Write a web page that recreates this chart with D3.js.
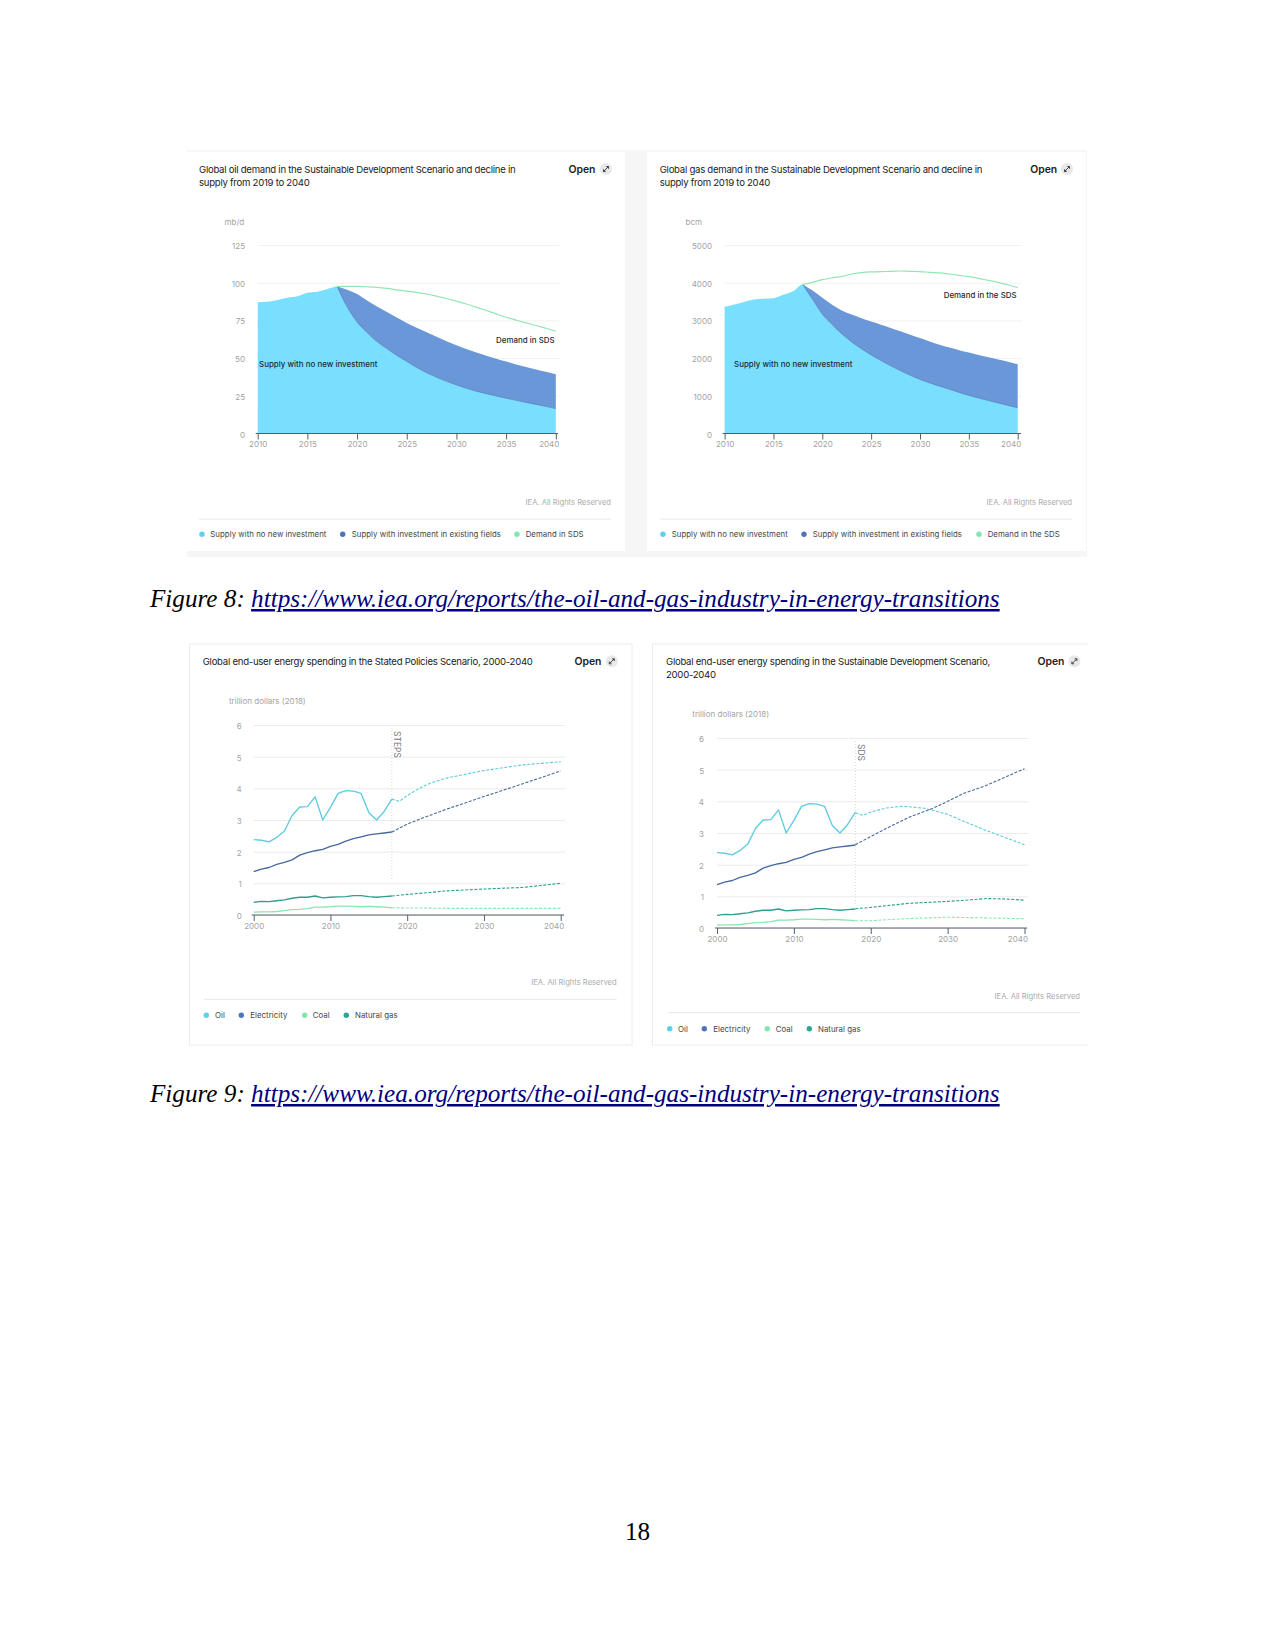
<!DOCTYPE html>
<html><head><meta charset="utf-8">
<script src="https://cdn.jsdelivr.net/npm/d3@7"></script>
<style>
html,body{margin:0;padding:0;background:#fff}
svg{display:block}
text{font-family:Inter,"Noto Sans",sans-serif}
.page{font-family:"Liberation Serif",serif;font-size:25.17px}
</style></head><body>
<svg id="page" width="1275" height="1650"></svg>
<script>
// ---- Data ----
const yearsA = [2010,2011,2012,2013,2014,2015,2016,2017,2018,2019,2020,2021,2022,2023,2024,2025,2026,2027,2028,2029,2030,2031,2032,2033,2034,2035,2036,2037,2038,2039,2040];
const yearsB = [2018,2019,2020,2021,2022,2023,2024,2025,2026,2027,2028,2029,2030,2031,2032,2033,2034,2035,2036,2037,2038,2039,2040];

const oilSupply = [87,87.3,88.5,90,91,93.3,94,95.8,97.5,84,74,67,61,56.3,51.8,47.8,43.8,40.3,37.3,34.6,32.2,30,28,26.4,24.9,23.4,22,20.6,19.3,18,16.5];
const oilInvest = [97.5,95.3,92.5,88.2,84.2,80.5,76.9,73.3,70.1,67.2,64.2,61.2,58.6,56.1,53.7,51.6,49.6,47.7,45.8,44.1,42.5,40.9,39.3];
const oilDemand = [97.5,97.6,97.6,97.3,96.9,96.2,95.3,94.4,93.6,92.5,91.1,89.5,87.8,85.9,83.8,81.6,79.3,77.1,75.2,73.4,71.6,69.8,67.8];

const gasSupply = [3360,3420,3490,3555,3575,3590,3680,3770,3955,3560,3170,2890,2640,2430,2250,2085,1935,1795,1665,1545,1435,1340,1255,1175,1090,1010,940,875,810,745,685];
const gasInvest = [3955,3790,3600,3415,3265,3155,3060,2970,2885,2800,2710,2620,2530,2440,2355,2280,2210,2150,2085,2020,1965,1905,1840];
const gasDemand = [3955,4010,4080,4125,4170,4230,4265,4285,4295,4300,4310,4300,4295,4275,4260,4230,4195,4160,4115,4060,4010,3945,3865];

const histYears = [2000,2001,2002,2003,2004,2005,2006,2007,2008,2009,2010,2011,2012,2013,2014,2015,2016,2017,2018];
const histOil = [2.38,2.36,2.31,2.45,2.65,3.14,3.41,3.42,3.73,3.0,3.4,3.84,3.93,3.91,3.84,3.24,3.0,3.27,3.66];
const histElectricity = [1.37,1.45,1.5,1.6,1.66,1.74,1.89,1.97,2.03,2.07,2.17,2.23,2.33,2.41,2.47,2.53,2.56,2.59,2.62];
const histGas = [0.40,0.43,0.42,0.45,0.48,0.53,0.56,0.56,0.60,0.54,0.56,0.57,0.58,0.61,0.61,0.58,0.56,0.58,0.60];
const histCoal = [0.09,0.10,0.10,0.11,0.14,0.17,0.18,0.20,0.25,0.25,0.26,0.28,0.28,0.27,0.26,0.27,0.26,0.25,0.23];

const stepsOilYears = [2018,2019,2020,2021,2022,2023,2024,2025,2030,2035,2040];
const stepsOil = [3.66,3.59,3.77,3.92,4.05,4.16,4.24,4.32,4.56,4.74,4.84];
const stepsOtherYears = [2018,2020,2022,2025,2030,2035,2040];
const stepsElectricity = [2.62,2.87,3.06,3.33,3.74,4.14,4.55];
const stepsGas = [0.60,0.65,0.69,0.76,0.82,0.87,1.0];
const stepsCoal = [0.23,0.22,0.22,0.21,0.21,0.21,0.21];

const sdsOilYears = [2018,2019,2020,2022,2024,2025,2027,2028,2030,2032,2035,2040];
const sdsOil = [3.64,3.56,3.66,3.79,3.84,3.83,3.78,3.72,3.59,3.38,3.08,2.63];
const sdsElecYears = [2018,2020,2022,2025,2028,2030,2032,2035,2040];
const sdsElectricity = [2.63,2.89,3.14,3.5,3.77,4.0,4.24,4.5,5.03];
const sdsGasYears = [2018,2020,2025,2030,2033,2035,2037,2040];
const sdsGas = [0.61,0.65,0.78,0.84,0.89,0.93,0.92,0.88];
const sdsCoalYears = [2018,2020,2022,2025,2030,2035,2040];
const sdsCoal = [0.23,0.23,0.26,0.30,0.34,0.32,0.29];

const oilTicksY = [0,25,50,75,100,125];
const gasTicksY = [0,1000,2000,3000,4000,5000];
const spendTicksY = [0,1,2,3,4,5,6];
const areaTicksX = [2010,2015,2020,2025,2030,2035,2040];
const spendTicksX = [2000,2010,2020,2030,2040];

const C = {light:"#7adfff",dark:"#6a97d8",green:"#93e6b4",oil:"#5fcbe0",elec:"#46699f",coal:"#8be5b2",gas:"#2f9e8f",
  legLight:"#5fd0ec",legDark:"#4f74b8",legGreen:"#82e6ae",legTeal:"#2aa795"};
const GRAY="#a3a3a3", INK="#2a2a2a";
const curve = d3.curveMonotoneX;

const svg = d3.select("#page");
svg.append("rect").attr("x",187).attr("y",150).attr("width",900).attr("height",407).attr("fill","#f6f6f6");

function txt(g,x,y,s,o={}){
  return g.append("text").attr("x",x).attr("y",y).text(s)
    .attr("font-size",o.size||8).attr("fill",o.fill||INK)
    .attr("font-weight",o.weight||400).attr("text-anchor",o.anchor||"start")
    .attr("letter-spacing",o.ls||0);
}
function frame(c){
  const g = svg.append("g");
  g.append("rect").attr("x",c.card[0]).attr("y",c.card[1]).attr("width",c.card[2]-c.card[0]).attr("height",c.card[3]-c.card[1])
    .attr("fill","#fff").attr("stroke",c.border||"none");
  c.title.forEach((t,i)=>txt(g,c.titleX,c.titleY+i*13,t,{size:9.6,ls:-0.27,fill:"#222"}));
  txt(g,c.openX,c.titleY,"Open",{size:10.4,weight:600,fill:"#222"});
  g.append("circle").attr("cx",c.iconX).attr("cy",c.titleY-3.5).attr("r",6).attr("fill","#e8e8e8");
  g.append("path").attr("d",`M${c.iconX-2.5} ${c.titleY-1}L${c.iconX+2.5} ${c.titleY-6}M${c.iconX+0.3} ${c.titleY-6}H${c.iconX+2.5}V${c.titleY-3.8}M${c.iconX-2.5} ${c.titleY-3.2}V${c.titleY-1}H${c.iconX-0.3}`)
    .attr("fill","none").attr("stroke","#444").attr("stroke-width",1);
  txt(g,c.unitX,c.unitY,c.unit,{size:8,fill:GRAY});
  txt(g,c.sep[2],c.iesY,"IEA. All Rights Reserved",{size:7.6,fill:"#ababab",anchor:"end"});
  g.append("line").attr("x1",c.sep[0]).attr("x2",c.sep[2]).attr("y1",c.sep[1]).attr("y2",c.sep[1]).attr("stroke","#e8e8e8");
  c.legend.forEach(l=>{
    g.append("circle").attr("cx",l.dot).attr("cy",c.legY).attr("r",2.7).attr("fill",l.color);
    txt(g,l.x,c.legY+3,l.label,{size:7.8,fill:"#444",ls:0.05});
  });
  return g;
}
function axes(g,c,x,y,ticksX,ticksY){
  const ay = g.append("g").attr("transform",`translate(${c.x[0]},0)`)
    .call(d3.axisLeft(y).tickValues(ticksY).tickSize(-(c.gridEnd-c.x[0])).tickFormat(d3.format("d")));
  ay.select(".domain").remove();
  ay.selectAll("line").attr("stroke",c.grid);
  ay.selectAll("text").attr("x",c.labelRight-c.x[0]).attr("dy","1.1em").attr("font-size",8).attr("fill",GRAY).attr("font-family","Inter")
    .attr("transform","translate(0,-5.2)");
  return ay;
}
function xAxis(g,c,x,y,ticksX){
  const ax = g.append("g").attr("transform",`translate(0,${y(0)})`)
    .call(d3.axisBottom(x).tickValues(ticksX).tickSizeOuter(0).tickSizeInner(6).tickPadding(2).tickFormat(d3.format("d")));
  ax.select(".domain").attr("d",`M${c.x[0]-2},0H${c.gridEnd-1}`).attr("stroke","#55606a").attr("stroke-width",1.1);
  ax.selectAll("line").attr("stroke","#55606a");
  ax.selectAll("text").attr("font-size",8).attr("fill",GRAY).attr("font-family","Inter");
  ax.selectAll(".tick:last-of-type text").attr("text-anchor","end").attr("x",3);
}

function areaChart(c,supply,invest,demand,ticksY){
  const g = frame(c);
  const x = d3.scaleLinear().domain([2010,2040]).range(c.x);
  const y = d3.scaleLinear().domain([0,ticksY[5]]).range(c.y);
  axes(g,c,x,y,areaTicksX,ticksY);
  const supplyAt = d3.map(yearsA,(yr,i)=>({yr,v:supply[i]}));
  g.append("path").datum(supplyAt).attr("fill",C.light)
    .attr("d",d3.area().curve(curve).x(d=>x(d.yr)).y0(y(0)).y1(d=>y(d.v)));
  const band = yearsB.map((yr,i)=>({yr,lo:supply[yearsA.indexOf(yr)],hi:invest[i]}));
  g.append("path").datum(band).attr("fill",C.dark)
    .attr("d",d3.area().curve(curve).x(d=>x(d.yr)).y0(d=>y(d.lo)).y1(d=>y(d.hi)));
  g.append("path").datum(band).attr("fill","none").attr("stroke","#4f7cb8").attr("stroke-width",0.7)
    .attr("d",d3.line().curve(curve).x(d=>x(d.yr)).y(d=>y(d.lo)));
  g.append("path").datum(yearsB.map((yr,i)=>({yr,v:demand[i]}))).attr("fill","none").attr("stroke",C.green).attr("stroke-width",1.2)
    .attr("d",d3.line().curve(curve).x(d=>x(d.yr)).y(d=>y(d.v)));
  xAxis(g,c,x,y,areaTicksX);
  c.notes.forEach(n=>txt(g,n[0],n[1],n[2],{size:7.9,weight:500,fill:"#1c2b33",ls:0.03}));
}

function lineChart(c,hist,proj){
  const g = frame(c);
  const x = d3.scaleLinear().domain([2000,2040]).range(c.x);
  const y = d3.scaleLinear().domain([0,6]).range(c.y);
  axes(g,c,x,y,spendTicksX,spendTicksY);
  g.append("line").attr("x1",x(2018)).attr("x2",x(2018)).attr("y1",c.markY[0]).attr("y2",c.markY[1])
    .attr("stroke","#d8d8d8").attr("stroke-dasharray","1 2");
  const line = d3.line().x(d=>d[0]).y(d=>d[1]);
  hist.forEach(s=>g.append("path").attr("fill","none").attr("stroke",s.color).attr("stroke-width",1.35).attr("stroke-linejoin","round")
    .attr("d",line(histYears.map((yr,i)=>[x(yr),y(s.values[i])]))));
  proj.forEach(s=>g.append("path").attr("fill","none").attr("stroke",s.color).attr("stroke-width",1.1).attr("stroke-dasharray","3 1.6")
    .attr("d",line(s.years.map((yr,i)=>[x(yr),y(s.values[i])]))));
  xAxis(g,c,x,y,spendTicksX);
  const t = txt(g,0,0,c.mark,{size:8.5,fill:"#777"});
  t.attr("transform",`translate(${x(2018)+2.5},${c.markText}) rotate(90)`);
}

areaChart({
  card:[187,152,625,551],grid:"#f1f1f1",title:["Global oil demand in the Sustainable Development Scenario and decline in","supply from 2019 to 2040"],
  titleX:199,titleY:172.5,openX:568.5,iconX:606,unit:"mb/d",unitX:224.5,unitY:225,
  sep:[199,519,611],iesY:505,legY:534.3,x:[257.7,555.8],y:[433.5,245],gridEnd:559,labelRight:245,
  legend:[{dot:202,x:210.3,color:C.legLight,label:"Supply with no new investment"},{dot:342.7,x:351.7,color:C.legDark,label:"Supply with investment in existing fields"},{dot:517,x:525.7,color:C.legGreen,label:"Demand in SDS"}],
  notes:[[496,343,"Demand in SDS"],[259,366.5,"Supply with no new investment"]]
},oilSupply,oilInvest,oilDemand,oilTicksY);
areaChart({
  card:[647,152,1086,551],grid:"#f1f1f1",title:["Global gas demand in the Sustainable Development Scenario and decline in","supply from 2019 to 2040"],
  titleX:659.7,titleY:172.5,openX:1030.2,iconX:1067,unit:"bcm",unitX:685.5,unitY:225,
  sep:[660,519,1072],iesY:505,legY:534.3,x:[724.6,1017.7],y:[433.5,245],gridEnd:1022,labelRight:712,
  legend:[{dot:663,x:671.7,color:C.legLight,label:"Supply with no new investment"},{dot:804,x:812.7,color:C.legDark,label:"Supply with investment in existing fields"},{dot:979,x:987.7,color:C.legGreen,label:"Demand in the SDS"}],
  notes:[[943.7,297.8,"Demand in the SDS"],[734,366.5,"Supply with no new investment"]]
},gasSupply,gasInvest,gasDemand,gasTicksY);

const spendHist = [{color:C.oil,values:histOil},{color:C.elec,values:histElectricity},{color:C.gas,values:histGas},{color:C.coal,values:histCoal}];
lineChart({
  card:[189.5,644,632,1045],grid:"#ebebeb",border:"#ececec",title:["Global end-user energy spending in the Stated Policies Scenario, 2000-2040"],
  titleX:202.7,titleY:664.8,openX:574.5,iconX:611.8,unit:"trillion dollars (2018)",unitX:229,unitY:703.5,
  sep:[204,999.3,616.7],iesY:985,legY:1015.3,x:[253.7,560.7],y:[915,725],gridEnd:565,labelRight:241.7,
  markY:[728,880],markText:731,mark:"STEPS",
  legend:[{dot:206.3,x:215,color:C.legLight,label:"Oil"},{dot:241.3,x:250.3,color:C.legDark,label:"Electricity"},{dot:304.7,x:312.7,color:C.legGreen,label:"Coal"},{dot:346.3,x:355,color:C.legTeal,label:"Natural gas"}]
},spendHist,[
  {color:C.oil,years:stepsOilYears,values:stepsOil},{color:C.elec,years:stepsOtherYears,values:stepsElectricity},
  {color:C.gas,years:stepsOtherYears,values:stepsGas},{color:C.coal,years:stepsOtherYears,values:stepsCoal}]);
lineChart({
  card:[652.5,644,1095,1045],grid:"#ebebeb",border:"#ececec",title:["Global end-user energy spending in the Sustainable Development Scenario,","2000-2040"],
  titleX:666,titleY:664.8,openX:1037.5,iconX:1074.4,unit:"trillion dollars (2018)",unitX:692.3,unitY:717,
  sep:[668,1012.7,1080],iesY:998.5,legY:1028.7,x:[717,1024.5],y:[928,738],gridEnd:1028,labelRight:704,
  markY:[741,905],markText:744,mark:"SDS",
  legend:[{dot:669.7,x:678,color:C.legLight,label:"Oil"},{dot:704.3,x:713.3,color:C.legDark,label:"Electricity"},{dot:767.3,x:775.7,color:C.legGreen,label:"Coal"},{dot:809.3,x:818,color:C.legTeal,label:"Natural gas"}]
},spendHist,[
  {color:C.oil,years:sdsOilYears,values:sdsOil},{color:C.elec,years:sdsElecYears,values:sdsElectricity},
  {color:C.gas,years:sdsGasYears,values:sdsGas},{color:C.coal,years:sdsCoalYears,values:sdsCoal}]);
svg.append("rect").attr("x",1088).attr("y",640).attr("width",12).attr("height",410).attr("fill","#fff");

const url="https://www.iea.org/reports/the-oil-and-gas-industry-in-energy-transitions";
[["Figure 8: ",607],["Figure 9: ",1102]].forEach(([f,yy])=>{
  const t=svg.append("text").attr("class","page").attr("x",150).attr("y",yy).attr("font-style","italic");
  t.append("tspan").text(f).attr("fill","#000");
  t.append("tspan").text(url).attr("fill","#000080").attr("text-decoration","underline");
});
svg.append("text").attr("class","page").attr("x",637.5).attr("y",1540).attr("text-anchor","middle").text("18");
</script>
</body></html>
